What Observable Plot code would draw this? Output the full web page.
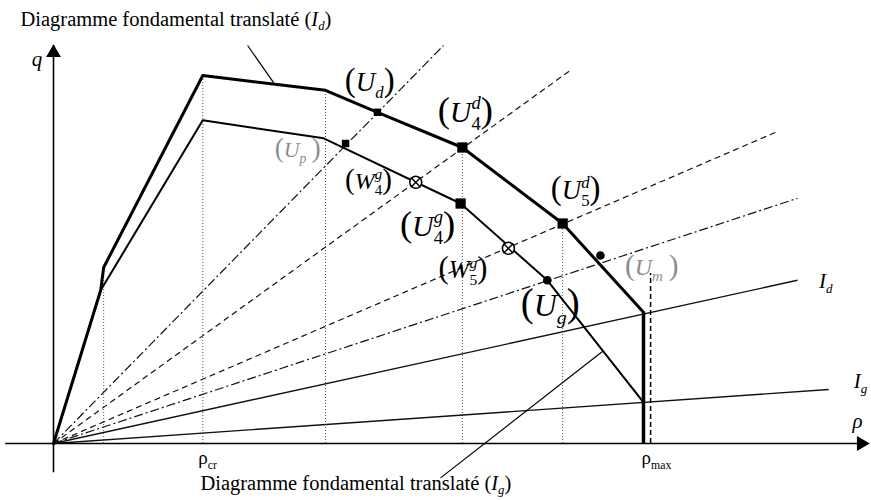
<!DOCTYPE html>
<html>
<head>
<meta charset="utf-8">
<script src="https://cdn.jsdelivr.net/npm/d3@7"></script>
<script src="https://cdn.jsdelivr.net/npm/@observablehq/plot@0.6"></script>
<style>
  body { margin: 0; background: #fff; }
  svg { display: block; }
</style>
</head>
<body>
<div id="chart"></div>
<script>
// Density ρ (ρmax = 100) and flow q, in diagram units.

// Translated fundamental diagram (I_d), upper curve
const upperRho = [0, 8, 8.5, 25.3, 46.1, 54.9, 69.3, 86.3, 100];
const upperQ   = [0, 38.3, 44, 92, 88.3, 82.8, 74, 55, 32.8];

// Translated fundamental diagram (I_g), lower curve
const lowerRho = [0, 8, 25.3, 45.8, 69, 83.7, 100];
const lowerQ   = [0, 38.3, 80.8, 76.3, 60, 40.8, 10.3];

// Rays from the origin (end points)
const dashDotRayRho = [66.1, 126.1];
const dashDotRayQ   = [99.5, 61.3];
const dashedRayRho  = [87.6, 122.4];
const dashedRayQ    = [93.3, 77.8];
const solidRayNames = ["I_d", "I_g"];
const solidRayRho   = [126.1, 131.4];
const solidRayQ     = [40.8, 13.5];

// Dotted guides dropped from the upper curve
const guideRho = [8.5, 25.3, 46.1, 69.3, 86.3];
const guideQ   = [44, 92, 88.3, 74, 55];

// ρmax: intersection of the two curves with I_d and I_g, and the U_m guide
const rhoMax = 100;
const rhoMaxTopQ = 32.8;
const umGuideRho = 101.2;
const umGuideQ = 42.5;

// Marked states
const squareNames = ["U4d", "U4g", "U5d"];
const squareRho   = [69.3, 69.0, 86.3];
const squareQ     = [74, 60, 55];
const smallNames  = ["Ud", "Up"];
const smallRho    = [54.9, 49.5];
const smallQ      = [82.8, 75];
const dotNames    = ["Ug", "Um"];
const dotRho      = [83.7, 92.7];
const dotQ        = [40.8, 47];
const crossNames  = ["W4g", "W5g"];
const crossRho    = [61.4, 77.1];
const crossQ      = [65.3, 48.8];

// State labels
const stateLabels = ["$(U_d)$", "$(U_p )$", "$(U_4^d)$", "$(W_4^g)$", "$(U_4^g)$", "$(U_5^d)$", "$(W_5^g)$", "$(U_g)$", "$(U_m )$"];
const stateLabelRho = [53.6, 41.4, 69.8, 53.4, 63.4, 88.5, 69.4, 84.2, 101.4];
const stateLabelQ   = [90.3, 73.3, 82.8, 65.5, 54.3, 63.3, 43.3, 34.5, 44.0];
const stateLabelSize = [27, 22, 30, 24, 30, 27, 25, 32, 24];
const faintLabels = ["$(U_p )$", "$(U_m )$"];

// Curve captions with pointer lines
const captionTexts = ["Diagramme fondamental translaté ($I_d$)", "Diagramme fondamental translaté ($I_g$)"];
const captionRho = [-5.6, 24.9];
const captionQ   = [106.0, -10.1];
const pointerFromRho = [32.9, 65.6];
const pointerFromQ   = [99.5, -8.6];
const pointerToRho   = [37.3, 93.2];
const pointerToQ     = [90.2, 23.2];

// Axis and ray labels
const axisLabelTexts = ["$q$", "$ρ$", "ρ_{cr}", "ρ_{max}", "$I_d$", "$I_g$"];
const axisLabelRho = [-2.8, 136.3, 26.1, 102.2, 130.9, 136.8];
const axisLabelQ   = [96.0, 5.5, -3.7, -3.7, 40.6, 15.6];

// Axis extents
const rhoAxisExtent = [-8.1, 138.1];
const qAxisExtent = [-7.3, 99.5];

const zip = (names, xs, ys) => xs.map((x, i) => ({name: names ? names[i] : i, x, y: ys[i]}));

const upper = zip(null, upperRho, upperQ);
const lower = zip(null, lowerRho, lowerQ);
const dashDotRays = zip(null, dashDotRayRho, dashDotRayQ);
const dashedRays = zip(null, dashedRayRho, dashedRayQ);
const solidRays = zip(solidRayNames, solidRayRho, solidRayQ);
const guides = zip(null, guideRho, guideQ);
const squares = zip(squareNames, squareRho, squareQ);
const smalls = zip(smallNames, smallRho, smallQ);
const dots = zip(dotNames, dotRho, dotQ);
const crosses = zip(crossNames, crossRho, crossQ);
const labels = stateLabels.map((t, i) => ({t, x: stateLabelRho[i], y: stateLabelQ[i], s: stateLabelSize[i]}));
const captions = captionTexts.map((t, i) => ({t, x: captionRho[i], y: captionQ[i]}));
const pointers = pointerFromRho.map((x, i) => ({x1: x, y1: pointerFromQ[i], x2: pointerToRho[i], y2: pointerToQ[i]}));
const axisLabels = axisLabelTexts.map((t, i) => ({t, x: axisLabelRho[i], y: axisLabelQ[i], s: t.startsWith("ρ_") ? 19 : 21}));
const arrowHeads = [
  {x: 0, y: qAxisExtent[1] - 1.8, rotate: 0},
  {x: rhoAxisExtent[1] - 1.2, y: 0, rotate: 90}
];

const chart = Plot.plot({
  width: 871,
  height: 500,
  x: {domain: [0, 100], range: [53, 643], axis: null},
  y: {domain: [0, 100], range: [443, 43], axis: null},
  style: {background: "#fff", fontFamily: "'Liberation Serif', 'Times New Roman', serif", color: "#000"},
  marks: [
    // dotted guides
    Plot.ruleX(guides, {x: "x", y1: 0, y2: "y", stroke: "#555", strokeWidth: 1, strokeDasharray: "1,2"}),
    // rays from origin
    Plot.link(dashDotRays, {x1: () => 0, y1: () => 0, x2: "x", y2: "y", stroke: "#111", strokeWidth: 1.2, strokeDasharray: "9,3,2,3"}),
    Plot.link(dashedRays, {x1: () => 0, y1: () => 0, x2: "x", y2: "y", stroke: "#111", strokeWidth: 1.2, strokeDasharray: "6,4"}),
    Plot.link(solidRays, {x1: () => 0, y1: () => 0, x2: "x", y2: "y", stroke: "#111", strokeWidth: 1.4}),
    // axes
    Plot.ruleY([0], {x1: rhoAxisExtent[0], x2: rhoAxisExtent[1], stroke: "#000", strokeWidth: 1.6}),
    Plot.ruleX([0], {y1: qAxisExtent[0], y2: qAxisExtent[1], stroke: "#000", strokeWidth: 1.6}),
    Plot.dot(arrowHeads, {x: "x", y: "y", rotate: "rotate", symbol: "triangle", r: 5.5, fill: "#000", stroke: "none"}),
    // ρmax guides
    Plot.ruleX([umGuideRho], {y1: 0, y2: umGuideQ, stroke: "#000", strokeWidth: 1.5, strokeDasharray: "5,3"}),
    Plot.ruleX([rhoMax], {y1: 0, y2: rhoMaxTopQ, stroke: "#000", strokeWidth: 3.5}),
    // curves
    Plot.line(lower, {x: "x", y: "y", stroke: "#000", strokeWidth: 2, strokeLinejoin: "round"}),
    Plot.line(upper, {x: "x", y: "y", stroke: "#000", strokeWidth: 3, strokeLinejoin: "round"}),
    // caption pointers
    Plot.link(pointers, {x1: "x1", y1: "y1", x2: "x2", y2: "y2", stroke: "#000", strokeWidth: 1.2}),
    // states
    Plot.dot(squares, {x: "x", y: "y", symbol: "square", r: 5.8, fill: "#000", stroke: "none"}),
    Plot.dot(smalls, {x: "x", y: "y", symbol: "square", r: 4.2, fill: "#000", stroke: "none"}),
    Plot.dot(dots, {x: "x", y: "y", symbol: "circle", r: 4.3, fill: "#000", stroke: "none"}),
    Plot.dot(crosses, {x: "x", y: "y", symbol: "circle", r: 6, fill: "#fff", stroke: "#000", strokeWidth: 1.6}),
    Plot.dot(crosses, {x: "x", y: "y", symbol: "times", r: 4.5, stroke: "#000", strokeWidth: 1.4}),
    // text
    Plot.text(labels, {x: "x", y: "y", text: "t", fontSize: "s",
      fill: d => faintLabels.includes(d.t) ? "#8c8c8c" : "#000"}),
    Plot.text(captions, {x: "x", y: "y", text: "t", fontSize: 20.5, textAnchor: "start", fill: "#000"}),
    Plot.text(axisLabels, {x: "x", y: "y", text: "t", fontSize: "s", fill: "#000"})
  ]
});

document.getElementById("chart").appendChild(chart);

// Render $…$ math segments, subscripts (_) and superscripts (^) as tspans.
function richText(el, src, parenScale, subShift) {
  const NS = "http://www.w3.org/2000/svg";
  const fs = parseFloat(el.getAttribute("font-size")) || parseFloat(getComputedStyle(el).fontSize) || 16;
  while (el.firstChild) el.removeChild(el.firstChild);
  let math = false, cur = 0, lastScript = null, i = 0;
  const put = (str, level, italic, size, dx) => {
    const t = document.createElementNS(NS, "tspan");
    t.textContent = str;
    const target = level === 0 ? 0 : level < 0 ? subShift * fs : -0.42 * fs;
    const dy = target - cur;
    if (dy) t.setAttribute("dy", dy);
    if (dx) t.setAttribute("dx", dx);
    cur = target;
    t.setAttribute("font-size", size);
    if (italic) t.setAttribute("font-style", "italic");
    el.appendChild(t);
    return t;
  };
  while (i < src.length) {
    const c = src[i];
    if (c === "$") { math = !math; i++; continue; }
    if (c === "_" || c === "^") {
      let g;
      if (src[i + 1] === "{") { const j = src.indexOf("}", i); g = src.slice(i + 2, j); i = j + 1; }
      else { g = src[i + 1]; i += 2; }
      const level = c === "_" ? -1 : 1;
      const dx = lastScript && lastScript.level !== level ? -lastScript.node.getComputedTextLength() : 0;
      const node = put(g, level, math && /[a-zα-ω]/i.test(g), 0.62 * fs, dx);
      lastScript = {level, node};
      continue;
    }
    lastScript = null;
    if (math) {
      if (c === "(" || c === ")") put(c, 0, false, fs * parenScale, 0);
      else put(c, 0, /[a-zα-ω]/i.test(c), fs, 0);
      i++;
    } else {
      let j = i;
      while (j < src.length && !"$_^".includes(src[j])) j++;
      put(src.slice(i, j), 0, false, fs, 0);
      i = j;
    }
  }
}

d3.select(chart).selectAll("g[aria-label='text'] text").each(function () {
  const src = this.textContent;
  const isState = src.startsWith("$(");
  const isCaption = src.startsWith("Diagramme");
  richText(this, src, isState ? 1.22 : 1, isCaption ? 0.18 : 0.26);
});
</script>
</body>
</html>
